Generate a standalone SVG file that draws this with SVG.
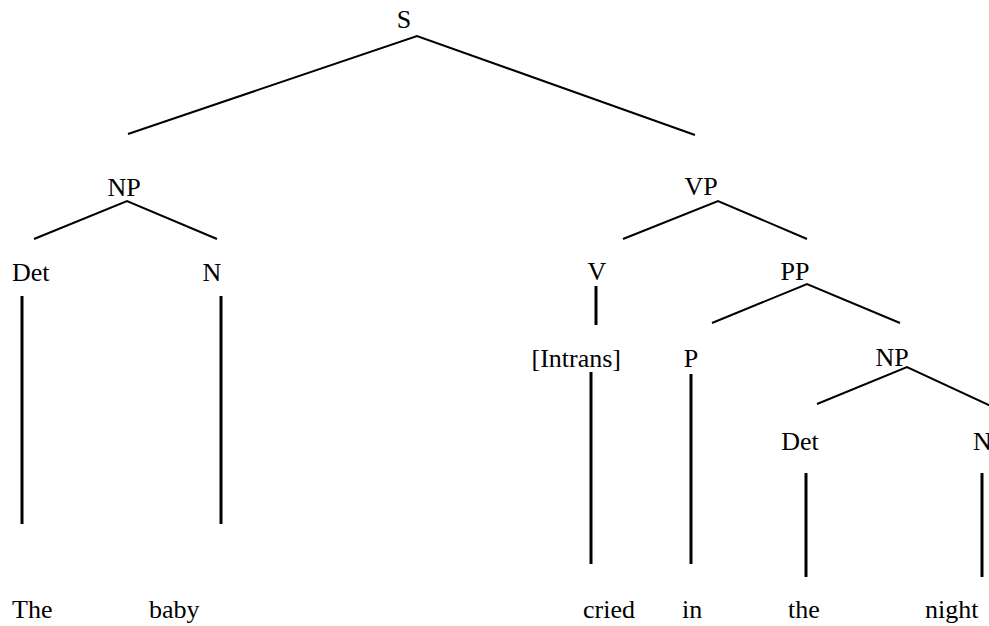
<svg xmlns="http://www.w3.org/2000/svg" width="989" height="626" viewBox="0 0 989 626">
<style>
text{font-family:"Liberation Serif","Times New Roman",serif;font-size:26px;fill:#000}
.e{fill:none;stroke:#000;stroke-width:2}
.v{fill:none;stroke:#000;stroke-width:3}
</style>
<rect width="989" height="626" fill="#fff"/>
<g id="connectors">
<polyline class="e" points="128,134 417,36 695,135"/>
<polyline class="e" points="34,239 127,201 217,239"/>
<polyline class="e" points="623,239 718,201 807,239"/>
<polyline class="e" points="712,323 807,284 900,323"/>
<polyline class="e" points="817,404 907,367 995,408"/>
<line class="v" x1="22" y1="296" x2="22" y2="524"/>
<line class="v" x1="221" y1="296" x2="221" y2="524"/>
<line class="v" x1="596" y1="286" x2="596" y2="325"/>
<line class="v" x1="591" y1="372" x2="591" y2="564"/>
<line class="v" x1="691" y1="374" x2="691" y2="564"/>
<line class="v" x1="806" y1="473" x2="806" y2="577"/>
<line class="v" x1="982" y1="473" x2="982" y2="577"/>
</g>
<g id="S"><text x="404" y="28" text-anchor="middle">S</text></g>
<g id="NP1"><text x="124" y="196" text-anchor="middle">NP</text></g>
<g id="Det1"><text x="12" y="281">Det</text></g>
<g id="N1"><text x="212" y="281" text-anchor="middle">N</text></g>
<g id="VP"><text x="701" y="195" text-anchor="middle">VP</text></g>
<g id="V"><text x="597" y="280" text-anchor="middle">V</text></g>
<g id="PP"><text x="795" y="280" text-anchor="middle">PP</text></g>
<g id="Intrans"><text x="621" y="367" text-anchor="end">[Intrans]</text></g>
<g id="P"><text x="691" y="367" text-anchor="middle">P</text></g>
<g id="NP2"><text x="892" y="366" text-anchor="middle">NP</text></g>
<g id="Det2"><text x="800" y="450" text-anchor="middle">Det</text></g>
<g id="N2"><text x="973" y="450">N</text></g>
<g id="words">
<text x="12" y="618">The</text>
<text x="149" y="618">baby</text>
<text x="583" y="618">cried</text>
<text x="682" y="618">in</text>
<text x="788" y="618">the</text>
<text x="925" y="618">night</text>
</g>
</svg>
